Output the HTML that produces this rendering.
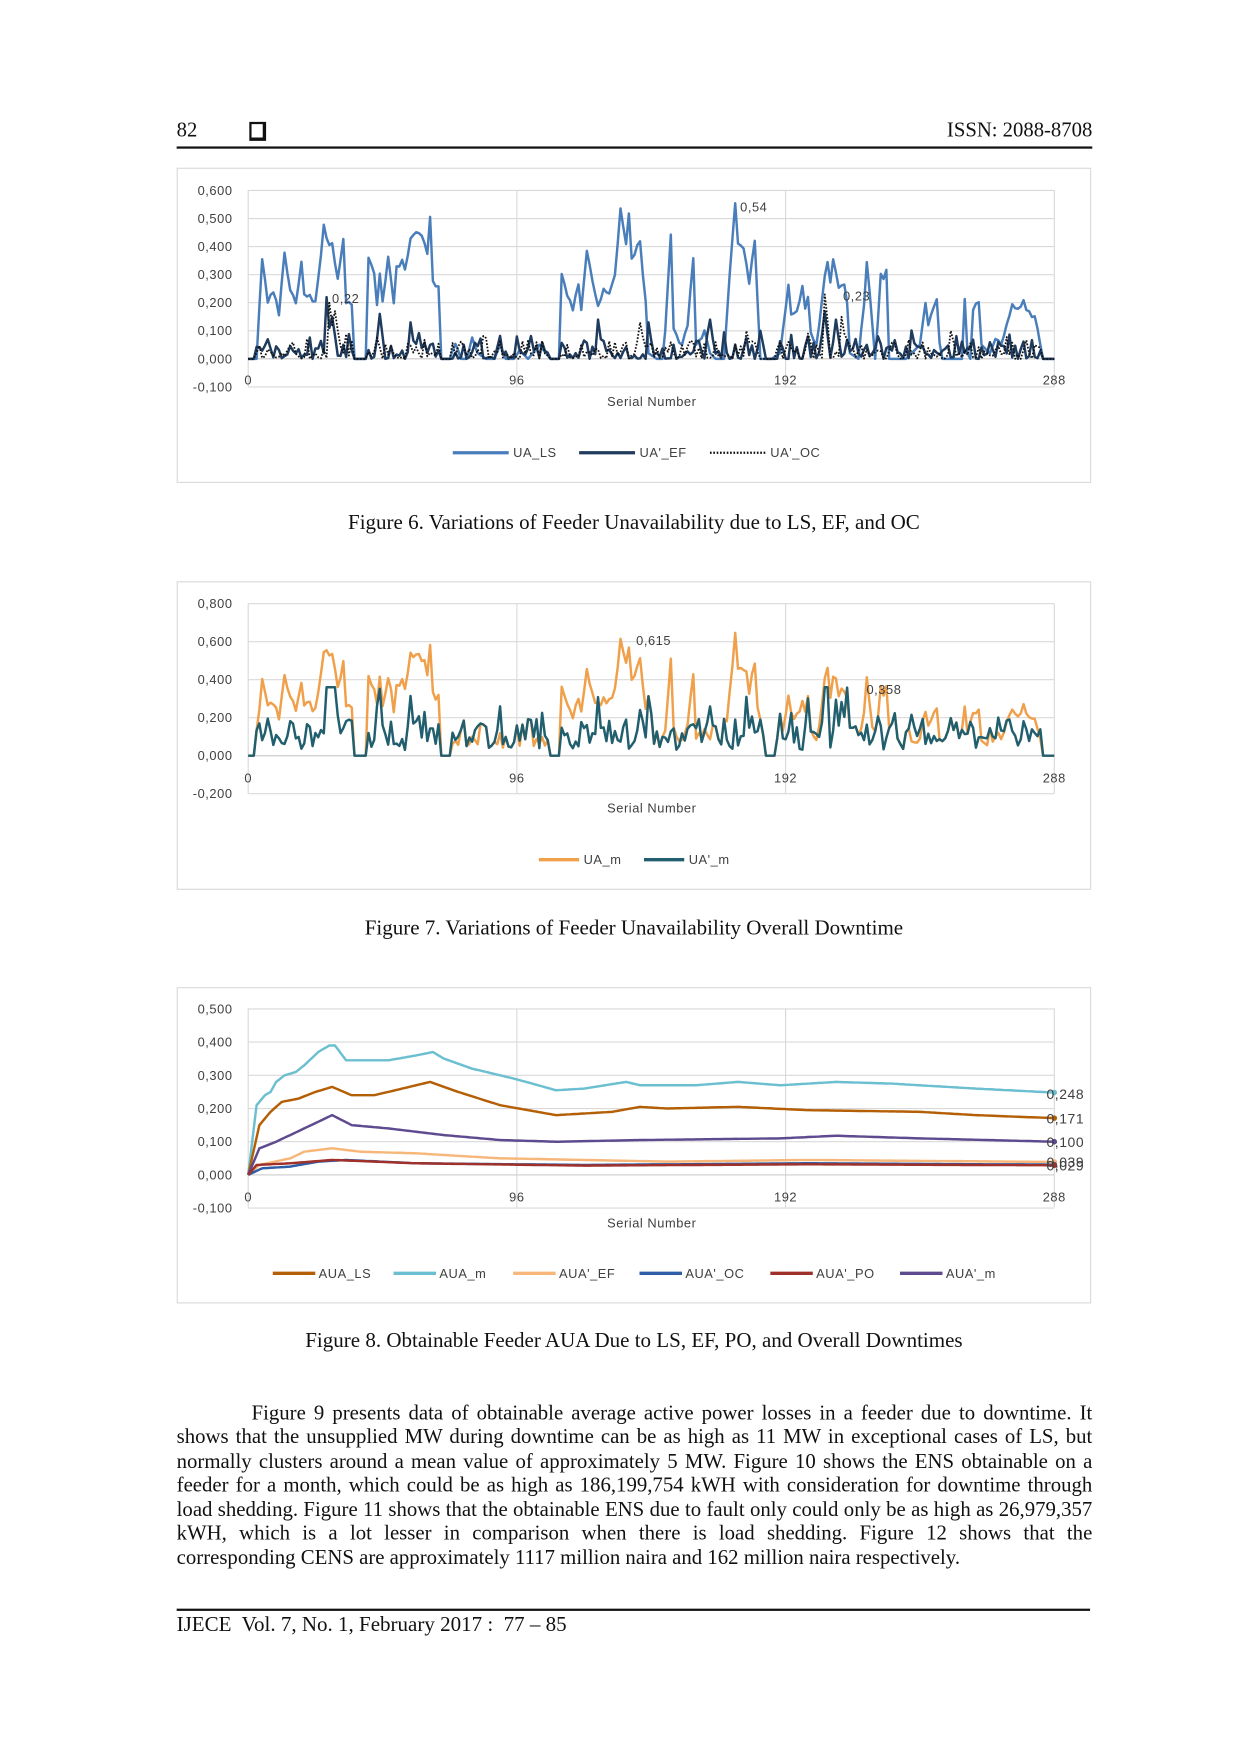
<!DOCTYPE html>
<html><head><meta charset="utf-8">
<style>
html,body{margin:0;padding:0;background:#fff;}
body{width:1241px;height:1754px;overflow:hidden;position:relative;}
#w{position:absolute;left:0;top:0;width:1110px;height:1569px;transform:scale(1.11802,1.1179);transform-origin:0 0;}
.t{position:absolute;font-family:"Liberation Serif",serif;color:#111;white-space:nowrap;}
.box{position:absolute;border:1.5px solid #d9d9d9;}
.p{position:absolute;left:158px;width:819px;font-family:"Liberation Serif",serif;font-size:18.6px;color:#111;text-align:justify;text-align-last:justify;white-space:nowrap;}
svg{position:absolute;left:0;top:0;}
svg text{font-family:"Liberation Sans",sans-serif;font-size:11.5px;fill:#404040;letter-spacing:0.5px;}
</style></head><body><div id="w">
<div class="t" style="left:158px;top:107px;font-size:18.5px;">82</div>
<div style="position:absolute;left:223px;top:109px;width:10px;height:12px;border:2px solid #111;border-right-width:3px;border-bottom-width:3px;"></div>
<div class="t" style="right:133px;top:107px;font-size:18.5px;">ISSN: 2088-8708</div>
<div style="position:absolute;left:158px;top:131px;width:819px;height:2px;background:#111;"></div>

<div class="box" style="left:158px;top:150px;width:816px;height:280px;"></div>
<div class="box" style="left:158px;top:520px;width:816px;height:274px;"></div>
<div class="box" style="left:158px;top:883px;width:816px;height:281px;"></div>

<div class="t" style="left:0;width:1134px;text-align:center;top:457px;font-size:18.8px;">Figure 6. Variations of Feeder Unavailability due to LS, EF, and OC</div>
<div class="t" style="left:0;width:1134px;text-align:center;top:820px;font-size:18.8px;">Figure 7. Variations of Feeder Unavailability Overall Downtime</div>
<div class="t" style="left:0;width:1134px;text-align:center;top:1189px;font-size:18.8px;">Figure 8. Obtainable Feeder AUA Due to LS, EF, PO, and Overall Downtimes</div>

<div class="p" style="top:1253.5px;padding-left:67px;width:752px;">Figure 9 presents data of obtainable average active power losses in a feeder due to downtime. It</div>
<div class="p" style="top:1275px;">shows that the unsupplied MW during downtime can be as high as 11 MW in exceptional cases of LS, but</div>
<div class="p" style="top:1296.5px;">normally clusters around a mean value of approximately 5 MW. Figure 10 shows the ENS obtainable on a</div>
<div class="p" style="top:1318px;">feeder for a month, which could be as high as 186,199,754 kWH with consideration for downtime through</div>
<div class="p" style="top:1339.5px;">load shedding. Figure 11 shows that the obtainable ENS due to fault only could only be as high as 26,979,357</div>
<div class="p" style="top:1361px;">kWH, which is a lot lesser in comparison when there is load shedding. Figure 12 shows that the</div>
<div class="p" style="top:1382.5px;text-align-last:left;">corresponding CENS are approximately 1117 million naira and 162 million naira respectively.</div>

<div style="position:absolute;left:158px;top:1439px;width:817px;height:1.5px;background:#111;"></div>
<div class="t" style="left:158px;top:1443px;font-size:18.8px;">IJECE&nbsp; Vol. 7, No. 1, February 2017 :&nbsp; 77 – 85</div>

<svg id="s" width="1110" height="1569"></svg>
</div>
<script>
var S=document.getElementById('s'),out='';
function interp(pts,i){for(var k=0;k<pts.length-1;k++){if(i>=pts[k][0]&&i<=pts[k+1][0]){var a=pts[k],b=pts[k+1];var t=(i-a[0])/(b[0]-a[0]||1);return a[1]+(b[1]-a[1])*t;}}return pts[pts.length-1][1];}
var seed=7;function rnd(){seed=(seed*16807)%2147483647;return seed/2147483647;}
var LSp=[[0,0],[3,0],[5,.36],[7,.2],[9,.24],[11,.16],[13,.37],[15,.25],[17,.2],[19,.34],[20,.22],[22,.22],[24,.2],[27,.47],[29,.4],[30,.42],[32,.28],[34,.43],[35,.2],[37,.2],[38,0],[42,0],[43,.36],[45,.3],[46,.2],[47,.3],[48,.2],[50,.37],[52,.2],[53,.32],[55,.35],[56,.32],[58,.43],[60,.45],[62,.43],[64,.38],[65,.5],[66,.27],[68,.25],[69,0],[72,0],[74,.06],[76,0],[78,0],[80,.07],[82,.02],[85,0],[88,0],[90,.05],[92,0],[95,0],[97,.03],[100,0],[104,.05],[108,0],[111,0],[112,.3],[114,.23],[116,.18],[118,.27],[119,.18],[121,.38],[123,.27],[125,.18],[127,.24],[129,.23],[131,.3],[133,.54],[135,.4],[136,.52],[137,.35],[139,.4],[140,.41],[141,.3],[142,.2],[143,.02],[146,0],[148,0],[149,.1],[151,.45],[152,.1],[155,.05],[157,.12],[159,.35],[160,.05],[163,.1],[165,.02],[167,0],[170,0],[172,.3],[174,.55],[175,.42],[177,.4],[179,.27],[181,.42],[182,.2],[183,0],[187,0],[190,.02],[193,.27],[194,.15],[196,.17],[198,.25],[199,.18],[200,.23],[201,.1],[203,.05],[205,.2],[206,.3],[207,.35],[208,.28],[209,.35],[211,.25],[213,.26],[214,.2],[215,.02],[218,0],[220,.2],[221,.35],[222,.25],[224,0],[226,.3],[227,.28],[228,.32],[229,0],[235,0],[240,.05],[242,.2],[243,.12],[244,.15],[246,.22],[247,.05],[248,0],[255,0],[256,.21],[257,.02],[258,0],[259,.18],[261,.2],[262,.05],[265,.02],[267,.07],[269,.05],[271,.12],[273,.2],[275,.18],[277,.2],[279,.16],[281,.15],[283,.05],[284,0],[288,0]];
var LS=[],EF=[],OC=[],UM=[],UPM=[];
var efSp={28:.22,30:.15,47:.16,58:.13,125:.14,143:.13,165:.14,183:.1,206:.17,210:.14,225:.08};
var ocSp={29:.2,31:.17,140:.13,178:.1,206:.23,212:.15,200:.09,251:.1};
for(var i=0;i<=288;i++){var l=Math.max(0,interp(LSp,i)+(rnd()-.5)*.02*(interp(LSp,i)>0.05?1:0));LS.push(l);
var act=(i>2&&!(i>=38&&i<=42)&&!(i>=69&&i<=72)&&!(i>=108&&i<=111)&&!(i>=184&&i<=188)&&!(i>=284));
var e=act?Math.max(0,rnd()*rnd()*.11):0;var o=act?Math.max(0,rnd()*rnd()*.09):0;
if(efSp[i])e=efSp[i];if(ocSp[i])o=ocSp[i];if(efSp[i-1])e=Math.max(e,efSp[i-1]*.5);if(ocSp[i-1])o=Math.max(o,ocSp[i-1]*.6);
EF.push(e);OC.push(o);}
for(var i=0;i<=288;i++){var tm=Math.min(.36,(EF[i]+OC[i])*1.6+(EF[i]+OC[i]>0?0.03:0));if(i==214)tm=.358;UPM.push(tm);var um=LS[i]>0.02?LS[i]*1.08+tm*0.25:tm;if(i==133)um=.615;UM.push(um);}
function path(arr,x0,x1,y0,yunit,col,w,dash){var d='';for(var i=0;i<arr.length;i++){var x=x0+(x1-x0)*i/288,y=y0-arr[i]*yunit;d+=(i?'L':'M')+x.toFixed(1)+' '+y.toFixed(1);}out+='<path d="'+d+'" fill="none" stroke="'+col+'" stroke-width="'+w+'" stroke-linejoin="round"'+(dash?' stroke-dasharray="'+dash+'"':'')+'/>';}
function axes(top,bot,zero,step,ticks,labY,titleY){var x0=222,x1=943;
for(var k=0;k<ticks.length;k++){var y=zero-ticks[k][0]*step;out+='<line x1="'+x0+'" x2="'+x1+'" y1="'+y+'" y2="'+y+'" stroke="#d9d9d9" stroke-width="1"/>';out+='<text x="208" y="'+(y+4)+'" text-anchor="end">'+ticks[k][1]+'</text>';}
[0,96,192,288].forEach(function(v){var x=x0+(x1-x0)*v/288;out+='<line x1="'+x+'" x2="'+x+'" y1="'+top+'" y2="'+bot+'" stroke="#d9d9d9"/>';out+='<text x="'+x+'" y="'+labY+'" text-anchor="middle">'+v+'</text>';});
out+='<line x1="'+x0+'" x2="'+x1+'" y1="'+zero+'" y2="'+zero+'" stroke="#d0d0d0"/>';
out+='<text x="583" y="'+titleY+'" text-anchor="middle">Serial Number</text>';}
axes(170,346,321,251,[[.6,'0,600'],[.5,'0,500'],[.4,'0,400'],[.3,'0,300'],[.2,'0,200'],[.1,'0,100'],[0,'0,000'],[-.1,'-0,100']],344,363);
path(LS,222,943,321,251,'#4a7ebb',2.2);path(EF,222,943,321,251,'#1f3b5e',2.2);path(OC,222,943,321,251,'#111',1.6,'1.5 1.5');
out+='<text x="662" y="189">0,54</text><text x="297" y="271">0,22</text><text x="754" y="269">0,23</text>';
out+='<line x1="405" x2="455" y1="405" y2="405" stroke="#4a7ebb" stroke-width="3"/><text x="459" y="409">UA_LS</text>';
out+='<line x1="518" x2="568" y1="405" y2="405" stroke="#1f3b5e" stroke-width="3"/><text x="572" y="409">UA\'_EF</text>';
out+='<line x1="635" x2="685" y1="405" y2="405" stroke="#111" stroke-width="2" stroke-dasharray="1.5 1.5"/><text x="689" y="409">UA\'_OC</text>';
axes(540,710,676,170,[[.8,'0,800'],[.6,'0,600'],[.4,'0,400'],[.2,'0,200'],[0,'0,000'],[-.2,'-0,200']],700,727);
path(UM,222,943,676,170,'#f0a04b',2.2);path(UPM,222,943,676,170,'#215e6e',2.2);
out+='<text x="569" y="577">0,615</text><text x="775" y="621">0,358</text>';
out+='<line x1="482" x2="518" y1="769" y2="769" stroke="#f0a04b" stroke-width="3"/><text x="522" y="773">UA_m</text>';
out+='<line x1="576" x2="612" y1="769" y2="769" stroke="#215e6e" stroke-width="3"/><text x="616" y="773">UA\'_m</text>';
axes(902,1080,1051,297,[[.5,'0,500'],[.4,'0,400'],[.3,'0,300'],[.2,'0,200'],[.1,'0,100'],[0,'0,000'],[-.1,'-0,100']],1075,1098);
function sm(p){var a=[];for(var i=0;i<=288;i++)a.push(interp(p,i));return a;}
var A8=[
['#6cbfd1',[[0,0],[3,.21],[6,.24],[8,.25],[10,.28],[13,.3],[17,.31],[20,.33],[25,.37],[29,.39],[31,.39],[35,.345],[40,.345],[50,.345],[60,.36],[66,.37],[70,.35],[80,.32],[95,.29],[110,.255],[120,.26],[135,.28],[140,.27],[160,.27],[175,.28],[190,.27],[210,.28],[230,.275],[260,.26],[288,.248]]],
['#b45f06',[[0,0],[4,.15],[8,.19],[12,.22],[18,.23],[24,.25],[30,.265],[37,.24],[45,.24],[55,.26],[65,.28],[75,.25],[90,.21],[110,.18],[130,.19],[140,.205],[150,.2],[175,.205],[200,.195],[240,.19],[260,.18],[288,.171]]],
['#5e4a8e',[[0,0],[4,.08],[10,.1],[20,.14],[30,.18],[37,.15],[50,.14],[70,.12],[90,.105],[110,.1],[140,.105],[190,.11],[210,.118],[240,.11],[288,.1]]],
['#f7b77a',[[0,0],[4,.03],[15,.05],[20,.07],[30,.08],[40,.07],[60,.065],[90,.05],[150,.04],[200,.045],[288,.039]]],
['#2f5ea8',[[0,0],[5,.02],[15,.025],[25,.04],[35,.045],[60,.035],[120,.03],[200,.035],[288,.031]]],
['#a0302a',[[0,0],[3,.03],[15,.035],[30,.045],[60,.035],[120,.028],[200,.032],[288,.029]]]];
A8.forEach(function(s){path(sm(s[1]),222,943,1051,297,s[0],2.2);var y=1051-s[1][s[1].length-1][1]*297;out+='<circle cx="943" cy="'+y+'" r="2.5" fill="'+s[0]+'"/>';});
out+='<text x="936" y="983" style="font-size:12.5px">0,248</text><text x="936" y="1005" style="font-size:12.5px">0,171</text><text x="936" y="1026" style="font-size:12.5px">0,100</text><text x="936" y="1044" style="font-size:12.5px">0,039</text><text x="936" y="1047" style="font-size:12.5px">0,029</text>';
var L8=[['#b45f06','AUA_LS',244],['#6cbfd1','AUA_m',352],['#f7b77a','AUA\'_EF',459],['#2f5ea8','AUA\'_OC',572],['#a0302a','AUA\'_PO',689],['#5e4a8e','AUA\'_m',805]];
L8.forEach(function(l){out+='<line x1="'+l[2]+'" x2="'+(l[2]+38)+'" y1="1139" y2="1139" stroke="'+l[0]+'" stroke-width="3"/><text x="'+(l[2]+41)+'" y="1143">'+l[1]+'</text>';});
S.innerHTML=out;
</script>
</body></html>
